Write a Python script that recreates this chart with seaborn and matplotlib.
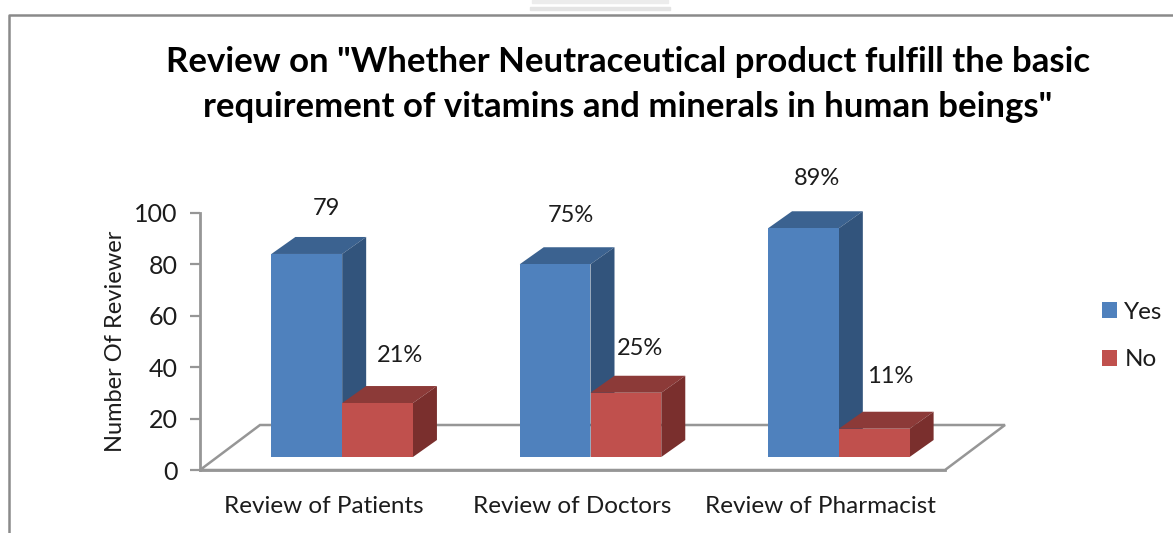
import pandas as pd
import seaborn as sns
import matplotlib.pyplot as plt
from matplotlib.lines import Line2D
from matplotlib.patches import Polygon, Rectangle
from matplotlib.transforms import Affine2D, IdentityTransform

# data
categories = ["Review of Patients", "Review of Doctors", "Review of Pharmacist"]
yes_values = [79, 75, 89]
no_values = [21, 25, 11]
yes_labels = ["79", "75%", "89%"]
no_labels = ["21%", "25%", "11%"]
y_ticks = [0, 20, 40, 60, 80, 100]

df = pd.DataFrame({
    "category": categories * 2,
    "answer": ["Yes"] * 3 + ["No"] * 3,
    "value": yes_values + no_values,
})

W, H = 1173, 533
GREY = "#969696"
TEXT = "#1c1c1c"
FRONT = {"Yes": "#4f81bd", "No": "#c0504d"}
TOP = {"Yes": "#3b6290", "No": "#8c3a38"}
SIDE = {"Yes": "#32547c", "No": "#7a2f2d"}

sns.set_theme(style="white")
plt.rcParams["font.family"] = ["Lato", "DejaVu Sans"]

fig = plt.figure(figsize=(W / 100, H / 100), dpi=100)
ax = fig.add_axes([200 / W, 1 - 470 / H, 745 / W, 257 / H])

sns.barplot(data=df, x="category", y="value", hue="answer", palette=FRONT,
            hue_order=["Yes", "No"], order=categories, width=0.57, gap=0,
            saturation=1, linewidth=0, ax=ax, zorder=3)
ax.set_xlim(-0.5, 2.5)
ax.set_ylim(0, 100)
ax.set_yticks(y_ticks)
ax.set_xlabel("")
ax.set_ylabel("Number Of Reviewer", fontsize=17, color=TEXT, labelpad=6)
ax.tick_params(axis="y", length=7, width=1.6, color=GREY, pad=9, labelsize=18, labelcolor=TEXT, left=True)
ax.tick_params(axis="x", length=0, pad=19, labelsize=17.5, labelcolor=TEXT)
for side in ["top", "right"]:
    ax.spines[side].set_visible(False)
for side in ["left", "bottom"]:
    ax.spines[side].set_color(GREY)
    ax.spines[side].set_linewidth(2)

# pseudo 3d: everything sits on a floor that goes back into the picture
bar_shift = (18, 13)
bar_depth = (24, 17)
floor_depth = (60, 45)

x0, y0 = ax.transAxes.transform((0, 0))
x1, _ = ax.transAxes.transform((1, 0))
ax.add_patch(Polygon([(x0, y0), (x0 + floor_depth[0], y0 + floor_depth[1]),
                      (x1 + floor_depth[0], y0 + floor_depth[1]), (x1, y0)],
                     closed=True, facecolor="none", edgecolor=GREY, linewidth=1.8,
                     transform=IdentityTransform(), zorder=1, clip_on=False))

shift = ax.transData + Affine2D().translate(*bar_shift)
nudges = [[(20, 45), (22, 48)], [(16, 49), (14, 44)], [(14, 50), (16, 52)]]
all_labels = [yes_labels, no_labels]

for k, (container, name) in enumerate(zip(ax.containers, ["Yes", "No"])):
    for i, bar in enumerate(container):
        bar.set_transform(shift)
        bar.set_clip_on(False)
        bar.set_zorder(3.1 + k)
        bx, by = bar.get_x(), bar.get_height()
        left, top = shift.transform((bx, by))
        right, base = shift.transform((bx + bar.get_width(), 0))
        dx, dy = bar_depth
        ax.add_patch(Polygon([(left, top), (left + dx, top + dy), (right + dx, top + dy), (right, top)],
                             closed=True, facecolor=TOP[name], edgecolor="none",
                             transform=IdentityTransform(), zorder=3 + k, clip_on=False))
        ax.add_patch(Polygon([(right, top), (right + dx, top + dy), (right + dx, base + dy), (right, base)],
                             closed=True, facecolor=SIDE[name], edgecolor="none",
                             transform=IdentityTransform(), zorder=3 + k, clip_on=False))
        nx, ny = nudges[i][k]
        ax.text((left + right) / 2 + nx, top + ny, all_labels[k][i], ha="center", va="center",
                fontsize=17, color=TEXT, transform=IdentityTransform(), zorder=6)

sns.move_legend(ax, loc="center left", bbox_to_anchor=(1102 / W, 1 - 336 / H),
                bbox_transform=fig.transFigure, frameon=False, title=None,
                fontsize=17.5, handlelength=0.62, handleheight=0.62,
                handletextpad=0.3, labelspacing=1.1, borderpad=0, borderaxespad=0)
for text in ax.get_legend().get_texts():
    text.set_color(TEXT)

fig.text(628 / W, 1 - 84.5 / H,
         'Review on "Whether Neutraceutical product fulfill the basic\n'
         'requirement of vitamins and minerals in human beings"',
         ha="center", va="center", fontsize=25, fontweight="bold", color="black", linespacing=1.52)

# slide frame and the bit of scroll handle above it
fig.add_artist(Line2D([9 / W, 9 / W, 1], [0, 1 - 15 / H, 1 - 15 / H], color="#8a8a8a", linewidth=1.8))
fig.add_artist(Rectangle((532 / W, 1 - 3 / H), 136 / W, 3 / H, transform=fig.transFigure, color="#ececec"))
fig.add_artist(Rectangle((530 / W, 1 - 10 / H), 140 / W, 3 / H, transform=fig.transFigure, color="#e4e4e4"))

fig.savefig("out.png", dpi=100)
